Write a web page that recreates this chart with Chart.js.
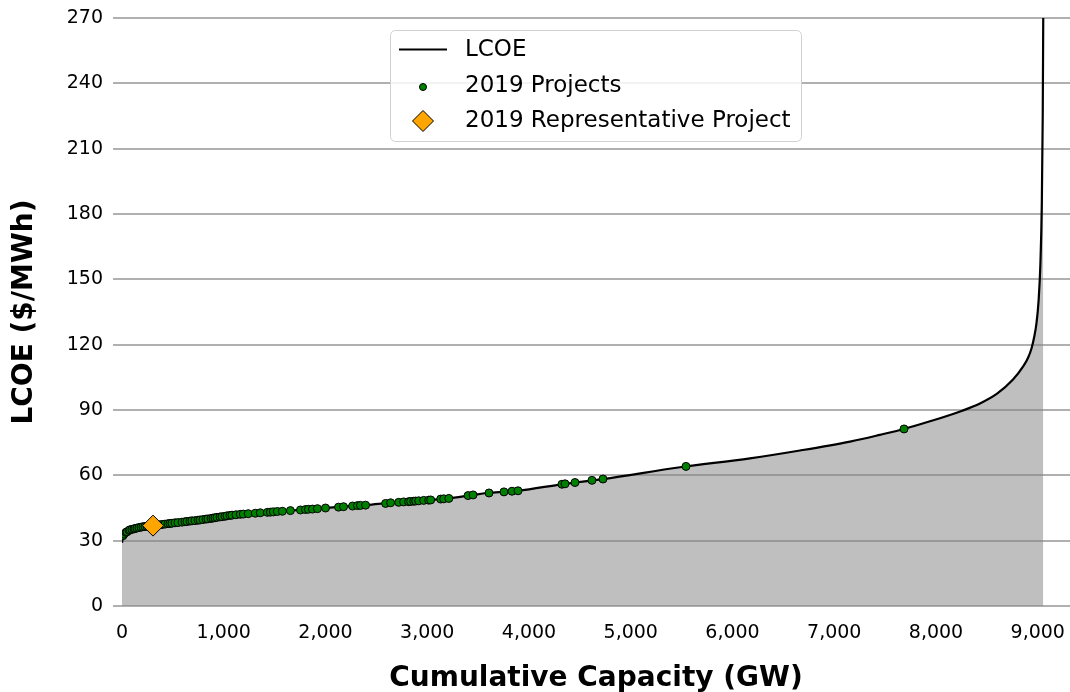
<!DOCTYPE html>
<html><head><meta charset="utf-8">
<script src="https://cdn.jsdelivr.net/npm/chart.js@4.4.1/dist/chart.umd.min.js"></script>
<style>html,body{margin:0;padding:0;background:#fff}canvas{display:block}</style>
</head><body><canvas id="c" width="1070" height="692"></canvas>
<script>
// LCOE supply curve (cumulative GW, $/MWh)
const lcoeCapacity = [0,10,29,79,206,305,767,1091,1425,1749,2074,2408,2634,3027,3204,3450,3617,3892,4334,4727,5484,6172,6663,7155,7449,7686,7941,8265,8432,8600,8757,8855,8905,8940,8965,8988,9008,9026,9040,9049,9054];
const lcoeValues   = [29,32,33.5,35,36.4,36.9,39.5,41.8,43.0,44.1,45.3,46.4,47.4,48.7,49.4,51.0,52.0,52.9,56.0,58.3,63.7,67.8,71.4,75.5,78.6,81.3,84.8,89.8,93.0,97.5,104,109.9,114,118.5,123.5,130,140,157,185,225,270];

// 2019 projects
const projectCapacity = [10,20,39,49,69,79,98,118,128,147,167,187,206,226,246,275,324,354,373,393,423,452,472,491,521,550,590,619,639,668,688,717,747,767,796,826,845,875,894,914,934,963,983,1012,1032,1061,1081,1120,1162,1192,1241,1310,1359,1429,1458,1488,1527,1576,1655,1754,1803,1832,1872,1921,2000,2128,2177,2266,2315,2344,2394,2591,2640,2719,2768,2817,2837,2867,2886,2916,2965,3014,3034,3132,3162,3212,3401,3450,3607,3754,3833,3892,4324,4354,4452,4619,4727,5543,7686];
const projectLcoe     = [32.3,33.0,33.8,34.1,34.7,35.0,35.2,35.4,35.6,35.8,36.0,36.2,36.4,36.5,36.6,36.8,37.0,37.2,37.3,37.4,37.6,37.8,37.9,38.0,38.2,38.3,38.5,38.7,38.8,39.0,39.1,39.2,39.4,39.5,39.7,39.9,40.0,40.2,40.4,40.5,40.7,40.9,41.0,41.2,41.4,41.6,41.7,41.9,42.1,42.2,42.4,42.6,42.8,43.0,43.1,43.2,43.4,43.5,43.8,44.1,44.3,44.4,44.5,44.7,45.0,45.4,45.6,45.9,46.1,46.2,46.3,47.1,47.4,47.6,47.8,47.9,48.0,48.1,48.2,48.3,48.5,48.6,48.7,49.1,49.2,49.4,50.7,51.0,51.9,52.4,52.7,52.9,55.9,56.1,56.7,57.7,58.3,64.1,81.3];

// representative project
const repCapacity = [305];
const repLcoe = [36.9];

const xTickValues = [0,1000,2000,3000,4000,5000,6000,7000,8000,9000];
const yTickValues = [0,30,60,90,120,150,180,210,240,270];
const legendLabels = ['LCOE','2019 Projects','2019 Representative Project'];

const FONT = "'DejaVu Sans', 'Liberation Sans', sans-serif";

const toXY = (xs, ys) => xs.map((x, i) => ({x: x, y: ys[i]}));

const legendPlugin = {
  id: 'insideLegend',
  afterDraw(chart) {
    const ctx = chart.ctx;
    ctx.save();
    const bx = 390.5, by = 30.5, bw = 411, bh = 111, r = 5;
    ctx.beginPath();
    ctx.moveTo(bx + r, by);
    ctx.lineTo(bx + bw - r, by);
    ctx.arcTo(bx + bw, by, bx + bw, by + r, r);
    ctx.lineTo(bx + bw, by + bh - r);
    ctx.arcTo(bx + bw, by + bh, bx + bw - r, by + bh, r);
    ctx.lineTo(bx + r, by + bh);
    ctx.arcTo(bx, by + bh, bx, by + bh - r, r);
    ctx.lineTo(bx, by + r);
    ctx.arcTo(bx, by, bx + r, by, r);
    ctx.closePath();
    ctx.fillStyle = 'rgba(255,255,255,0.85)';
    ctx.fill();
    ctx.strokeStyle = '#d0d0d0';
    ctx.lineWidth = 1;
    ctx.stroke();

    ctx.beginPath();
    ctx.moveTo(399, 49.5);
    ctx.lineTo(447, 49.5);
    ctx.strokeStyle = '#000';
    ctx.lineWidth = 2;
    ctx.stroke();

    ctx.beginPath();
    ctx.arc(423, 87, 3.5, 0, Math.PI * 2);
    ctx.fillStyle = '#008000';
    ctx.fill();
    ctx.lineWidth = 1;
    ctx.strokeStyle = '#000';
    ctx.stroke();

    const dx = 423, dy = 121, d = 10.5;
    ctx.beginPath();
    ctx.moveTo(dx, dy - d);
    ctx.lineTo(dx + d, dy);
    ctx.lineTo(dx, dy + d);
    ctx.lineTo(dx - d, dy);
    ctx.closePath();
    ctx.fillStyle = '#FFA500';
    ctx.fill();
    ctx.strokeStyle = '#000';
    ctx.lineWidth = 1;
    ctx.stroke();

    ctx.fillStyle = '#000';
    ctx.font = '23px ' + FONT;
    ctx.textBaseline = 'middle';
    ctx.textAlign = 'left';
    ctx.fillText(legendLabels[0], 465, 50);
    ctx.fillText(legendLabels[1], 465, 86);
    ctx.fillText(legendLabels[2], 465, 121);
    ctx.restore();
  }
};

new Chart(document.getElementById('c'), {
  type: 'scatter',
  data: {
    datasets: [
      {
        label: legendLabels[2],
        data: toXY(repCapacity, repLcoe),
        pointStyle: 'rectRot',
        pointRadius: 10.5,
        backgroundColor: '#FFA500',
        borderColor: '#000',
        borderWidth: 1,
        order: 0
      },
      {
        label: legendLabels[1],
        data: toXY(projectCapacity, projectLcoe),
        pointStyle: 'circle',
        pointRadius: 4,
        backgroundColor: '#008000',
        borderColor: '#000',
        borderWidth: 1,
        order: 1
      },
      {
        label: legendLabels[0],
        type: 'line',
        data: toXY(lcoeCapacity, lcoeValues),
        borderColor: '#000',
        borderWidth: 2.2,
        pointRadius: 0,
        showLine: true,
        cubicInterpolationMode: 'monotone',
        fill: 'origin',
        backgroundColor: 'rgba(128,128,128,0.5)',
        order: 2
      }
    ]
  },
  options: {
    responsive: false,
    animation: false,
    devicePixelRatio: 1,
    layout: {autoPadding: false, padding: {top: 18, right: 0, left: 0, bottom: 0}},
    plugins: {legend: {display: false}, tooltip: {enabled: false}},
    scales: {
      x: {
        type: 'linear',
        min: 0,
        max: 9317,
        afterBuildTicks: (s) => { s.ticks = xTickValues.map(v => ({value: v})); },
        afterFit: (s) => { s.height = 86; },
        grid: {display: true, drawOnChartArea: false, drawTicks: true, tickLength: 16, tickColor: 'rgba(0,0,0,0)'},
        border: {display: false},
        ticks: {
          padding: 0,
          color: '#000',
          font: {family: FONT, size: 19},
          maxRotation: 0,
          autoSkip: false,
          callback: (v) => Number(v).toLocaleString('en-US')
        },
        title: {
          display: true,
          text: 'Cumulative Capacity (GW)',
          color: '#000',
          font: {family: FONT, size: 28, weight: 'bold'},
          padding: {top: 0, bottom: -4}
        }
      },
      y: {
        type: 'linear',
        min: 0,
        max: 270,
        afterBuildTicks: (s) => { s.ticks = yTickValues.map(v => ({value: v})); },
        afterFit: (s) => { s.width = 122; },
        grid: {color: '#b0b0b0', lineWidth: 2, drawTicks: true, tickLength: 19, tickColor: '#b0b0b0', tickBorderDash: [0, 10, 9, 200]},
        border: {display: false},
        ticks: {
          padding: 0,
          color: '#000',
          font: {family: FONT, size: 19}
        },
        title: {
          display: true,
          text: 'LCOE ($/MWh)',
          color: '#000',
          font: {family: FONT, size: 28, weight: 'bold'},
          padding: {top: 8, bottom: 0}
        }
      }
    }
  },
  plugins: [legendPlugin]
});
</script>
</body></html>
